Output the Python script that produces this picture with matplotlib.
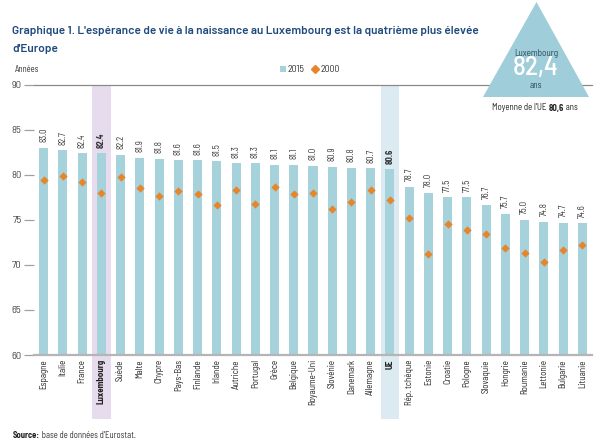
import matplotlib
matplotlib.use("Agg")
import matplotlib.pyplot as plt
from matplotlib.patches import Rectangle, Polygon
import matplotlib.transforms as mtransforms

plt.rcParams['font.family'] = ['Barlow Semi Condensed', 'DejaVu Sans']
TITLE_FAM = ['Barlow', 'Barlow Semi Condensed', 'DejaVu Sans']

countries = ["Espagne", "Italie", "France", "Luxembourg", "Suède", "Malte", "Chypre",
             "Pays-Bas", "Finlande", "Irlande", "Autriche", "Portugal", "Grèce",
             "Belgique", "Royaume-Uni", "Slovénie", "Danemark", "Allemagne", "UE",
             "Rép. tchèque", "Estonie", "Croatie", "Pologne", "Slovaquie", "Hongrie",
             "Roumanie", "Lettonie", "Bulgarie", "Lituanie"]
v2015 = [83.0, 82.7, 82.4, 82.4, 82.2, 81.9, 81.8, 81.6, 81.6, 81.5, 81.3, 81.3, 81.1,
         81.1, 81.0, 80.9, 80.8, 80.7, 80.6, 78.7, 78.0, 77.5, 77.5, 76.7, 75.7, 75.0,
         74.8, 74.7, 74.6]
v2000 = [79.4, 79.9, 79.2, 78.0, 79.8, 78.5, 77.7, 78.2, 77.9, 76.6, 78.3, 76.8, 78.6,
         77.9, 78.0, 76.2, 77.0, 78.3, 77.2, 75.2, 71.2, 74.5, 73.9, 73.4, 71.9, 71.3,
         70.3, 71.6, 72.2]
yticks = [60, 65, 70, 75, 80, 85, 90]
highlight = {"Luxembourg": "#e6dcee", "UE": "#dcebf2"}

BAR = "#a6d2dc"
ORANGE = "#e8852b"
TITLE = "#1e4a7e"
W, H = 600, 444

def fx(x):
    return x / W

def fy(y):
    return 1 - y / H

fig = plt.figure(figsize=(6, 4.44), dpi=100)
ax = fig.add_axes([fx(34), fy(355), (592 - 34) / W, (355 - 84.7) / H])
ax.set_xlim(-0.5, len(countries) - 0.5)
ax.set_ylim(60, 90)
xs = list(range(len(countries)))

trans = mtransforms.blended_transform_factory(ax.transData, ax.transAxes)
for i, c in enumerate(countries):
    if c in highlight:
        ax.add_patch(Rectangle((i - 0.48, -0.237), 0.96, 1.237, transform=trans,
                               facecolor=highlight[c], edgecolor='none', clip_on=False, zorder=0))

ax.bar(xs, v2015, width=0.47, color=BAR, zorder=2)
ax.scatter(xs, v2000, marker='D', s=18, color=ORANGE, zorder=3, linewidths=0)

for i, (c, v) in enumerate(zip(countries, v2015)):
    ax.annotate(f"{v:.1f}", (i, v), xytext=(0, 4), textcoords='offset points',
                rotation=90, ha='center', va='bottom', fontsize=6.3, color='#333333',
                fontweight='bold' if c in highlight else 'normal')

for s in ['left', 'right', 'top', 'bottom']:
    ax.spines[s].set_visible(False)
ax.axhline(90, color='#8a8a8a', lw=0.9, zorder=1, clip_on=False)
ax.axhline(60, color='#b5b5b5', lw=1.6, zorder=4, clip_on=False)

ax.set_yticks(yticks)
ax.set_yticklabels([str(t) for t in yticks])
ax.tick_params(axis='y', length=7, width=0.9, color='#a0a0a0', labelsize=7.5,
               labelcolor='#444444', pad=2)
ax.set_xticks(xs)
ax.set_xticklabels(countries, rotation=90, fontsize=6.4, color='#222222', va='top')
for lab in ax.get_xticklabels():
    if lab.get_text() in highlight:
        lab.set_fontweight('bold')
ax.tick_params(axis='x', length=0, pad=3)

# Title
fig.text(fx(12), fy(34), "Graphique 1. L'espérance de vie à la naissance au Luxembourg est la quatrième plus élevée",
         fontsize=8.5, color=TITLE, fontweight=600, ha='left', va='baseline', family=TITLE_FAM)
fig.text(fx(12), fy(52), "d'Europe", fontsize=8.5, color=TITLE, fontweight=600,
         ha='left', va='baseline', family=TITLE_FAM)
fig.text(fx(15), fy(69.5), "Années", fontsize=6.2, color='#333333', ha='left', va='center')

# Legend
fig.patches.append(Rectangle((fx(280), fy(72.5)), 6 / W, 6 / H, transform=fig.transFigure,
                             facecolor=BAR, edgecolor='none'))
fig.text(fx(288), fy(69.5), "2015", fontsize=7, color='#333333', va='center', ha='left')
fig.lines.append(plt.Line2D([fx(314.5)], [fy(69.5)], marker='D', markersize=4.2, color=ORANGE,
                            linestyle='none', transform=fig.transFigure))
fig.text(fx(320.5), fy(69.5), "2000", fontsize=7, color='#333333', va='center', ha='left')

# Triangle
fig.patches.append(Polygon([(fx(536.5), fy(2)), (fx(483), fy(97)), (fx(589), fy(97))],
                           closed=True, transform=fig.transFigure, facecolor="#9fcdd9",
                           edgecolor='none', zorder=5))
fig.text(fx(536), fy(53), "Luxembourg", fontsize=6.6, color='#2a4a5a', ha='center',
         va='center', zorder=6)
fig.text(fx(536), fy(68), "82,4", fontsize=19.5, color='white', ha='center', va='center',
         zorder=6, fontweight=500)
fig.text(fx(536), fy(85), "ans", fontsize=6.6, color='#2a4a5a', ha='center', va='center',
         zorder=6)

fig.canvas.draw()
renderer = fig.canvas.get_renderer()

def run_texts(parts, x0, y, center=False, fs=6.3):
    objs = []
    for txt, wgt, col in parts:
        objs.append(fig.text(0, fy(y), txt, fontsize=fs, fontweight=wgt, color=col,
                             ha='left', va='center'))
    widths = [o.get_window_extent(renderer).width for o in objs]
    total = sum(widths)
    x = x0 - total / 2 if center else x0
    for o, w in zip(objs, widths):
        o.set_x(fx(x))
        x += w

run_texts([("Moyenne de l'UE ", 'normal', '#222222'), ("80,6", 'bold', '#222222'),
           (" ans", 'normal', '#222222')], 535, 108, center=True)
run_texts([("Source:", 'bold', '#222222'), (" base de données d'Eurostat.", 'normal', '#333333')],
          13, 435, fs=6.2)

fig.savefig("out.png", dpi=100)
